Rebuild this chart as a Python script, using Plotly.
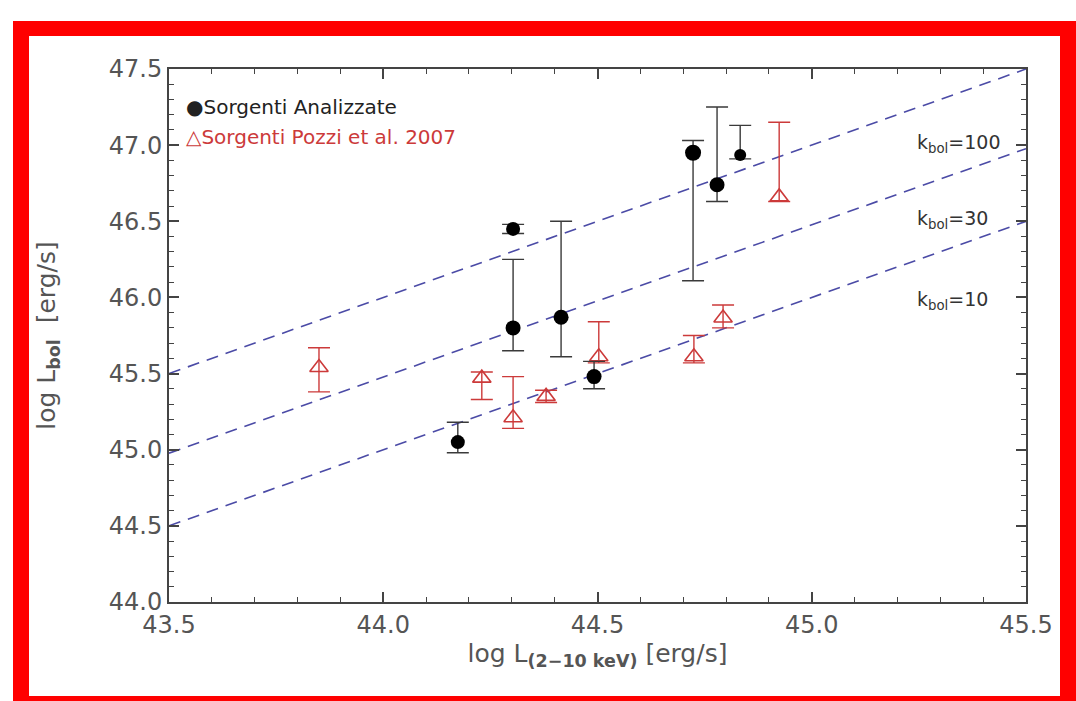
import plotly.graph_objects as go
import math

# ---------------- data ----------------
x_range = [43.5, 45.5]
y_range = [44.0, 47.5]

kbol_values = [100, 30, 10]
kbol_labels = ["k<sub>bol</sub>=100", "k<sub>bol</sub>=30", "k<sub>bol</sub>=10"]
kbol_label_y = [47.01, 46.51, 45.98]
kbol_label_x = 45.24

an_x = [44.174, 44.303, 44.303, 44.415, 44.492, 44.723, 44.779, 44.833]
an_y = [45.05, 45.80, 46.45, 45.87, 45.48, 46.95, 46.74, 46.935]
an_err_plus = [0.13, 0.45, 0.03, 0.63, 0.10, 0.08, 0.51, 0.195]
an_err_minus = [0.07, 0.15, 0.03, 0.26, 0.08, 0.84, 0.11, 0.025]
an_size = [14, 15, 14, 15, 15, 16, 15, 12]

pz_x = [43.85, 44.23, 44.303, 44.38, 44.503, 44.725, 44.793, 44.924]
pz_y = [45.54, 45.47, 45.21, 45.35, 45.61, 45.61, 45.865, 46.66]
pz_err_plus = [0.13, 0.04, 0.27, 0.04, 0.23, 0.14, 0.085, 0.49]
pz_err_minus = [0.16, 0.14, 0.07, 0.04, 0.04, 0.04, 0.065, 0.03]

legend_labels = ["\u25cfSorgenti Analizzate", "\u25b3Sorgenti Pozzi et al. 2007"]

# ---------------- style ----------------
W, H = 1076, 701
L, R, T, B = 169, 50, 69, 99
RED = "#cc3a3a"
BLUE = "#4b4ba6"
AXC = "#444444"
FONT = "DejaVu Sans"

fig = go.Figure()

# k_bol reference lines: L_bol = L_X + log10(k)
for k in kbol_values:
    fig.add_trace(go.Scatter(
        x=x_range, y=[x_range[0] + math.log10(k), x_range[1] + math.log10(k)],
        mode="lines", line=dict(color=BLUE, width=1.6, dash="12px,8px"),
        showlegend=False, hoverinfo="skip"))

fig.add_trace(go.Scatter(
    x=pz_x, y=pz_y, mode="markers", name="Sorgenti Pozzi et al. 2007",
    marker=dict(symbol="triangle-up-open", size=16, color=RED, opacity=1,
                line=dict(width=1.6, color=RED)),
    error_y=dict(type="data", symmetric=False, array=pz_err_plus, arrayminus=pz_err_minus,
                 color=RED, thickness=1.4, width=11),
    showlegend=False))

fig.add_trace(go.Scatter(
    x=an_x, y=an_y, mode="markers", name="Sorgenti Analizzate",
    marker=dict(symbol="circle", size=an_size, color="black", opacity=1, line=dict(width=0)),
    error_y=dict(type="data", symmetric=False, array=an_err_plus, arrayminus=an_err_minus,
                 color="#3a3a3a", thickness=1.4, width=11),
    showlegend=False))

# k_bol labels
for lab, yy in zip(kbol_labels, kbol_label_y):
    fig.add_annotation(x=kbol_label_x, y=yy, xref="x", yref="y", text=lab,
                       showarrow=False, xanchor="left", yanchor="middle",
                       font=dict(family=FONT, size=19, color="#333333"))

pw, ph = W - L - R, H - T - B
def px(xp):
    return (xp - L) / pw
def py(yp):
    return (H - B - yp) / ph

# legend as text
fig.add_annotation(x=px(184), y=py(107), xref="paper", yref="paper",
                   text=legend_labels[0], showarrow=False, xanchor="left", yanchor="middle",
                   font=dict(family=FONT, size=20, color="#222222"))
fig.add_annotation(x=px(184), y=py(137), xref="paper", yref="paper",
                   text=legend_labels[1], showarrow=False, xanchor="left", yanchor="middle",
                   font=dict(family=FONT, size=20, color=RED))

# red frame
frame = [(13, 21, 29, 701), (13, 21, 1076, 36), (1060, 21, 1076, 701), (13, 696, 1076, 701)]
for x0, y0, x1, y1 in frame:
    fig.add_shape(type="rect", xref="paper", yref="paper",
                  x0=px(x0), x1=px(x1), y0=py(y1), y1=py(y0),
                  fillcolor="#ff0000", line=dict(width=0), layer="above")

axis_common = dict(
    showline=True, linecolor=AXC, linewidth=2, mirror="ticks",
    ticks="inside", ticklen=10, tickwidth=1.5, tickcolor=AXC,
    showgrid=False, zeroline=False, tickformat=".1f",
    tickfont=dict(family=FONT, size=24, color="#555555"),
)

fig.update_layout(
    width=W, height=H,
    margin=dict(l=L, r=R, t=T, b=B),
    paper_bgcolor="white", plot_bgcolor="white",
    xaxis=dict(range=x_range, tick0=43.5, dtick=0.5,
               minor=dict(dtick=0.1, ticks="inside", ticklen=5, tickwidth=1, tickcolor=AXC),
               title=dict(text="log L<sub><b>(2\u221210 keV)</b></sub> [erg/s]",
                          font=dict(family=FONT, size=25, color="#555555"), standoff=6),
               **axis_common),
    yaxis=dict(range=y_range, tick0=44.0, dtick=0.5,
               minor=dict(dtick=0.1, ticks="inside", ticklen=5, tickwidth=1, tickcolor=AXC),
               title=dict(text="log L<sub><b>bol</b></sub>  [erg/s]",
                          font=dict(family=FONT, size=25, color="#555555"), standoff=46),
               **axis_common),
    showlegend=False,
)

fig.write_html("out.html", config={"displayModeBar": False},
               post_script="document.body.style.margin='0';")
